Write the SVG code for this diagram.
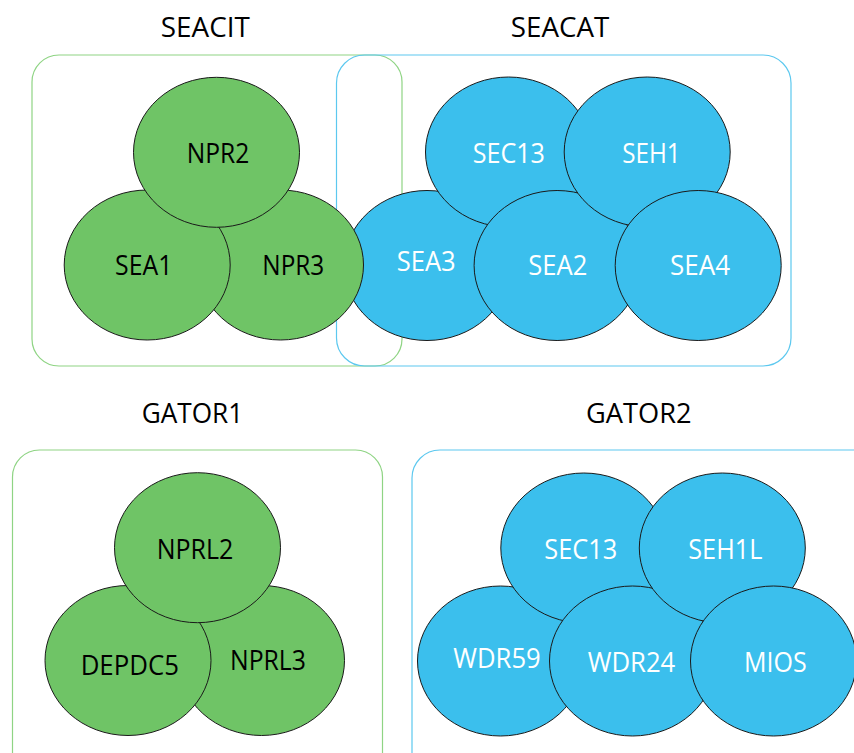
<svg xmlns="http://www.w3.org/2000/svg" width="854" height="753" viewBox="0 0 854 753">
<style>
.bg{fill:#ffffff}
.boxg{fill:none;stroke:#8fd484;stroke-width:1.2}
.boxb{fill:none;stroke:#5cc8ef;stroke-width:1.2}
.g ellipse{fill:#6fc466;stroke:#1a1a1a;stroke-width:1}
.b ellipse{fill:#3bbfed;stroke:#1a1a1a;stroke-width:1}
text{font-family:"Open Sans","Noto Sans","Liberation Sans",sans-serif;text-anchor:middle}
.title{font-size:27.5px;fill:#000}
.g text{font-size:27px;fill:#000}
.b text{font-size:27px;fill:#fff}
</style>
<rect class="bg" x="0" y="0" width="854" height="753"/>
<g id="titles">
<text class="title" x="205.3" y="36.7" textLength="89" lengthAdjust="spacingAndGlyphs">SEACIT</text>
<text class="title" x="560" y="36.7" textLength="98.5" lengthAdjust="spacingAndGlyphs">SEACAT</text>
<text class="title" x="192.5" y="423.3" textLength="101.5" lengthAdjust="spacingAndGlyphs">GATOR1</text>
<text class="title" x="638.8" y="423.3" textLength="105.5" lengthAdjust="spacingAndGlyphs">GATOR2</text>
</g>
<g id="groups">
<rect id="box-seacit" class="boxg" x="32" y="55" width="370" height="311" rx="27"/>
<rect id="box-seacat" class="boxb" x="336.5" y="55" width="454.5" height="311" rx="28"/>
<rect id="box-gator1" class="boxg" x="12.5" y="450" width="370" height="330" rx="27"/>
<rect id="box-gator2" class="boxb" x="412" y="450" width="470" height="330" rx="28"/>
</g>
<g id="connectors"></g>
<!-- SEACAT -->
<g id="SEA3" class="b"><ellipse cx="427" cy="265.5" rx="83" ry="75"/><text x="426.2" y="270.7" textLength="59" lengthAdjust="spacingAndGlyphs">SEA3</text></g>
<g id="SEC13a" class="b"><ellipse cx="508.5" cy="152" rx="83" ry="75"/><text x="508.8" y="162.7" textLength="72.3" lengthAdjust="spacingAndGlyphs">SEC13</text></g>
<g id="SEA2" class="b"><ellipse cx="557.1" cy="265.5" rx="83" ry="75"/><text x="557.8" y="275" textLength="59" lengthAdjust="spacingAndGlyphs">SEA2</text></g>
<g id="SEH1" class="b"><ellipse cx="647.2" cy="152" rx="83" ry="75"/><text x="651.5" y="162.7" textLength="58.4" lengthAdjust="spacingAndGlyphs">SEH1</text></g>
<g id="SEA4" class="b"><ellipse cx="698.2" cy="265.5" rx="83" ry="75"/><text x="700" y="275" textLength="60" lengthAdjust="spacingAndGlyphs">SEA4</text></g>
<!-- SEACIT -->
<g id="NPR3" class="g"><ellipse cx="280.5" cy="265" rx="83" ry="75"/><text x="293.3" y="275" textLength="62" lengthAdjust="spacingAndGlyphs">NPR3</text></g>
<g id="SEA1" class="g"><ellipse cx="147.2" cy="265" rx="83" ry="75"/><text x="143.7" y="275" textLength="57.3" lengthAdjust="spacingAndGlyphs">SEA1</text></g>
<g id="NPR2" class="g"><ellipse cx="216.5" cy="152.3" rx="83" ry="75"/><text x="218" y="163.3" textLength="62.6" lengthAdjust="spacingAndGlyphs">NPR2</text></g>
<!-- GATOR1 -->
<g id="NPRL3" class="g"><ellipse cx="261.5" cy="660.5" rx="83" ry="75"/><text x="268" y="670" textLength="76" lengthAdjust="spacingAndGlyphs">NPRL3</text></g>
<g id="DEPDC5" class="g"><ellipse cx="128" cy="660.5" rx="83" ry="75"/><text x="129.8" y="675" textLength="98.3" lengthAdjust="spacingAndGlyphs">DEPDC5</text></g>
<g id="NPRL2" class="g"><ellipse cx="197.5" cy="547.7" rx="83" ry="75"/><text x="195" y="559" textLength="76.6" lengthAdjust="spacingAndGlyphs">NPRL2</text></g>
<!-- GATOR2 -->
<g id="WDR59" class="b"><ellipse cx="500.5" cy="661" rx="83" ry="75"/><text x="497" y="668.3" textLength="87.4" lengthAdjust="spacingAndGlyphs">WDR59</text></g>
<g id="SEC13b" class="b"><ellipse cx="583.8" cy="548" rx="83" ry="75"/><text x="580.8" y="559" textLength="73" lengthAdjust="spacingAndGlyphs">SEC13</text></g>
<g id="WDR24" class="b"><ellipse cx="632.5" cy="661" rx="83" ry="75"/><text x="631.5" y="672.3" textLength="87.6" lengthAdjust="spacingAndGlyphs">WDR24</text></g>
<g id="SEH1L" class="b"><ellipse cx="722.3" cy="548" rx="83" ry="75"/><text x="725.3" y="559" textLength="74" lengthAdjust="spacingAndGlyphs">SEH1L</text></g>
<g id="MIOS" class="b"><ellipse cx="773.5" cy="661" rx="83" ry="75"/><text x="775.3" y="672.3" textLength="62.7" lengthAdjust="spacingAndGlyphs">MIOS</text></g>
</svg>
